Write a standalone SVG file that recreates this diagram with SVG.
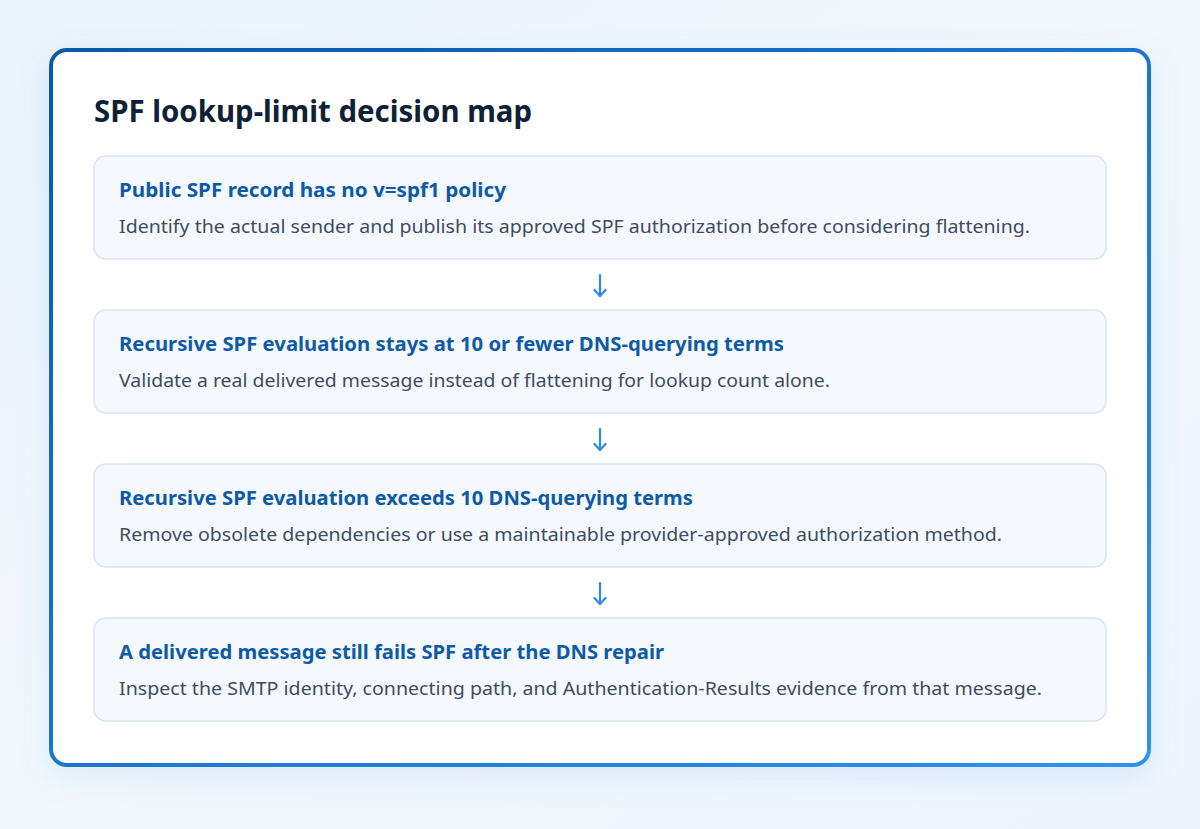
<svg xmlns="http://www.w3.org/2000/svg" width="1200" height="829" viewBox="0 0 1200 829">
<defs>
<linearGradient id="bg" x1="0" y1="0" x2="1" y2="1">
<stop offset="0" stop-color="#eaf3fc"/>
<stop offset="0.5" stop-color="#f3f8fd"/>
<stop offset="1" stop-color="#eef5fd"/>
</linearGradient>
<linearGradient id="border" x1="0" y1="0" x2="1" y2="1">
<stop offset="0" stop-color="#0b58a8"/>
<stop offset="1" stop-color="#2f92f2"/>
</linearGradient>
<filter id="shadow" x="-10%" y="-10%" width="120%" height="130%">
<feDropShadow dx="0" dy="10" stdDeviation="16" flood-color="#3a7fd0" flood-opacity="0.12"/>
</filter>
<marker id="ah" viewBox="0 0 10 14" refX="8" refY="7" markerWidth="10" markerHeight="14" markerUnits="userSpaceOnUse" orient="auto">
<path d="M2 1.5 L8 7 L2 12.5" fill="none" stroke="#2b8ae6" stroke-width="2.2" stroke-linecap="round" stroke-linejoin="round"/>
</marker>
</defs>
<style>
.node{fill:#f5f9fe;stroke:#d5e4f4;stroke-width:1.5}
.nt{font-family:"Noto Sans","Liberation Sans",sans-serif;font-weight:700;font-size:20px;fill:#0d5aa7}
.nd{font-family:"Noto Sans","Liberation Sans",sans-serif;font-size:18px;fill:#3e4c5e}
.title{font-family:"Noto Sans","Liberation Sans",sans-serif;font-weight:700;font-size:30px;fill:#0f2136}
.conn{stroke:#2b8ae6;stroke-width:2.2;fill:none;stroke-linecap:round}
</style>
<rect x="0" y="0" width="1200" height="829" fill="url(#bg)"/>
<rect x="51" y="50" width="1098" height="715" rx="16" ry="16" fill="#ffffff" stroke="url(#border)" stroke-width="4" filter="url(#shadow)"/>
<text class="title" x="94" y="122" textLength="438" lengthAdjust="spacingAndGlyphs">SPF lookup-limit decision map</text>

<g id="connectors">
<path class="conn" d="M600 275 V296" marker-end="url(#ah)"/>
<path class="conn" d="M600 429 V450" marker-end="url(#ah)"/>
<path class="conn" d="M600 583 V604" marker-end="url(#ah)"/>
</g>

<g id="node1">
<rect class="node" x="94" y="156" width="1012" height="103" rx="12"/>
<text class="nt" x="119" y="197" textLength="387" lengthAdjust="spacingAndGlyphs">Public SPF record has no v=spf1 policy</text>
<text class="nd" x="119" y="233" textLength="911" lengthAdjust="spacingAndGlyphs">Identify the actual sender and publish its approved SPF authorization before considering flattening.</text>
</g>
<g id="node2">
<rect class="node" x="94" y="310" width="1012" height="103" rx="12"/>
<text class="nt" x="119" y="351" textLength="665" lengthAdjust="spacingAndGlyphs">Recursive SPF evaluation stays at 10 or fewer DNS-querying terms</text>
<text class="nd" x="119" y="387" textLength="711" lengthAdjust="spacingAndGlyphs">Validate a real delivered message instead of flattening for lookup count alone.</text>
</g>
<g id="node3">
<rect class="node" x="94" y="464" width="1012" height="103" rx="12"/>
<text class="nt" x="119" y="505" textLength="574" lengthAdjust="spacingAndGlyphs">Recursive SPF evaluation exceeds 10 DNS-querying terms</text>
<text class="nd" x="119" y="541" textLength="883" lengthAdjust="spacingAndGlyphs">Remove obsolete dependencies or use a maintainable provider-approved authorization method.</text>
</g>
<g id="node4">
<rect class="node" x="94" y="618" width="1012" height="103" rx="12"/>
<text class="nt" x="119" y="659" textLength="545" lengthAdjust="spacingAndGlyphs">A delivered message still fails SPF after the DNS repair</text>
<text class="nd" x="119" y="695" textLength="923" lengthAdjust="spacingAndGlyphs">Inspect the SMTP identity, connecting path, and Authentication-Results evidence from that message.</text>
</g>
</svg>
